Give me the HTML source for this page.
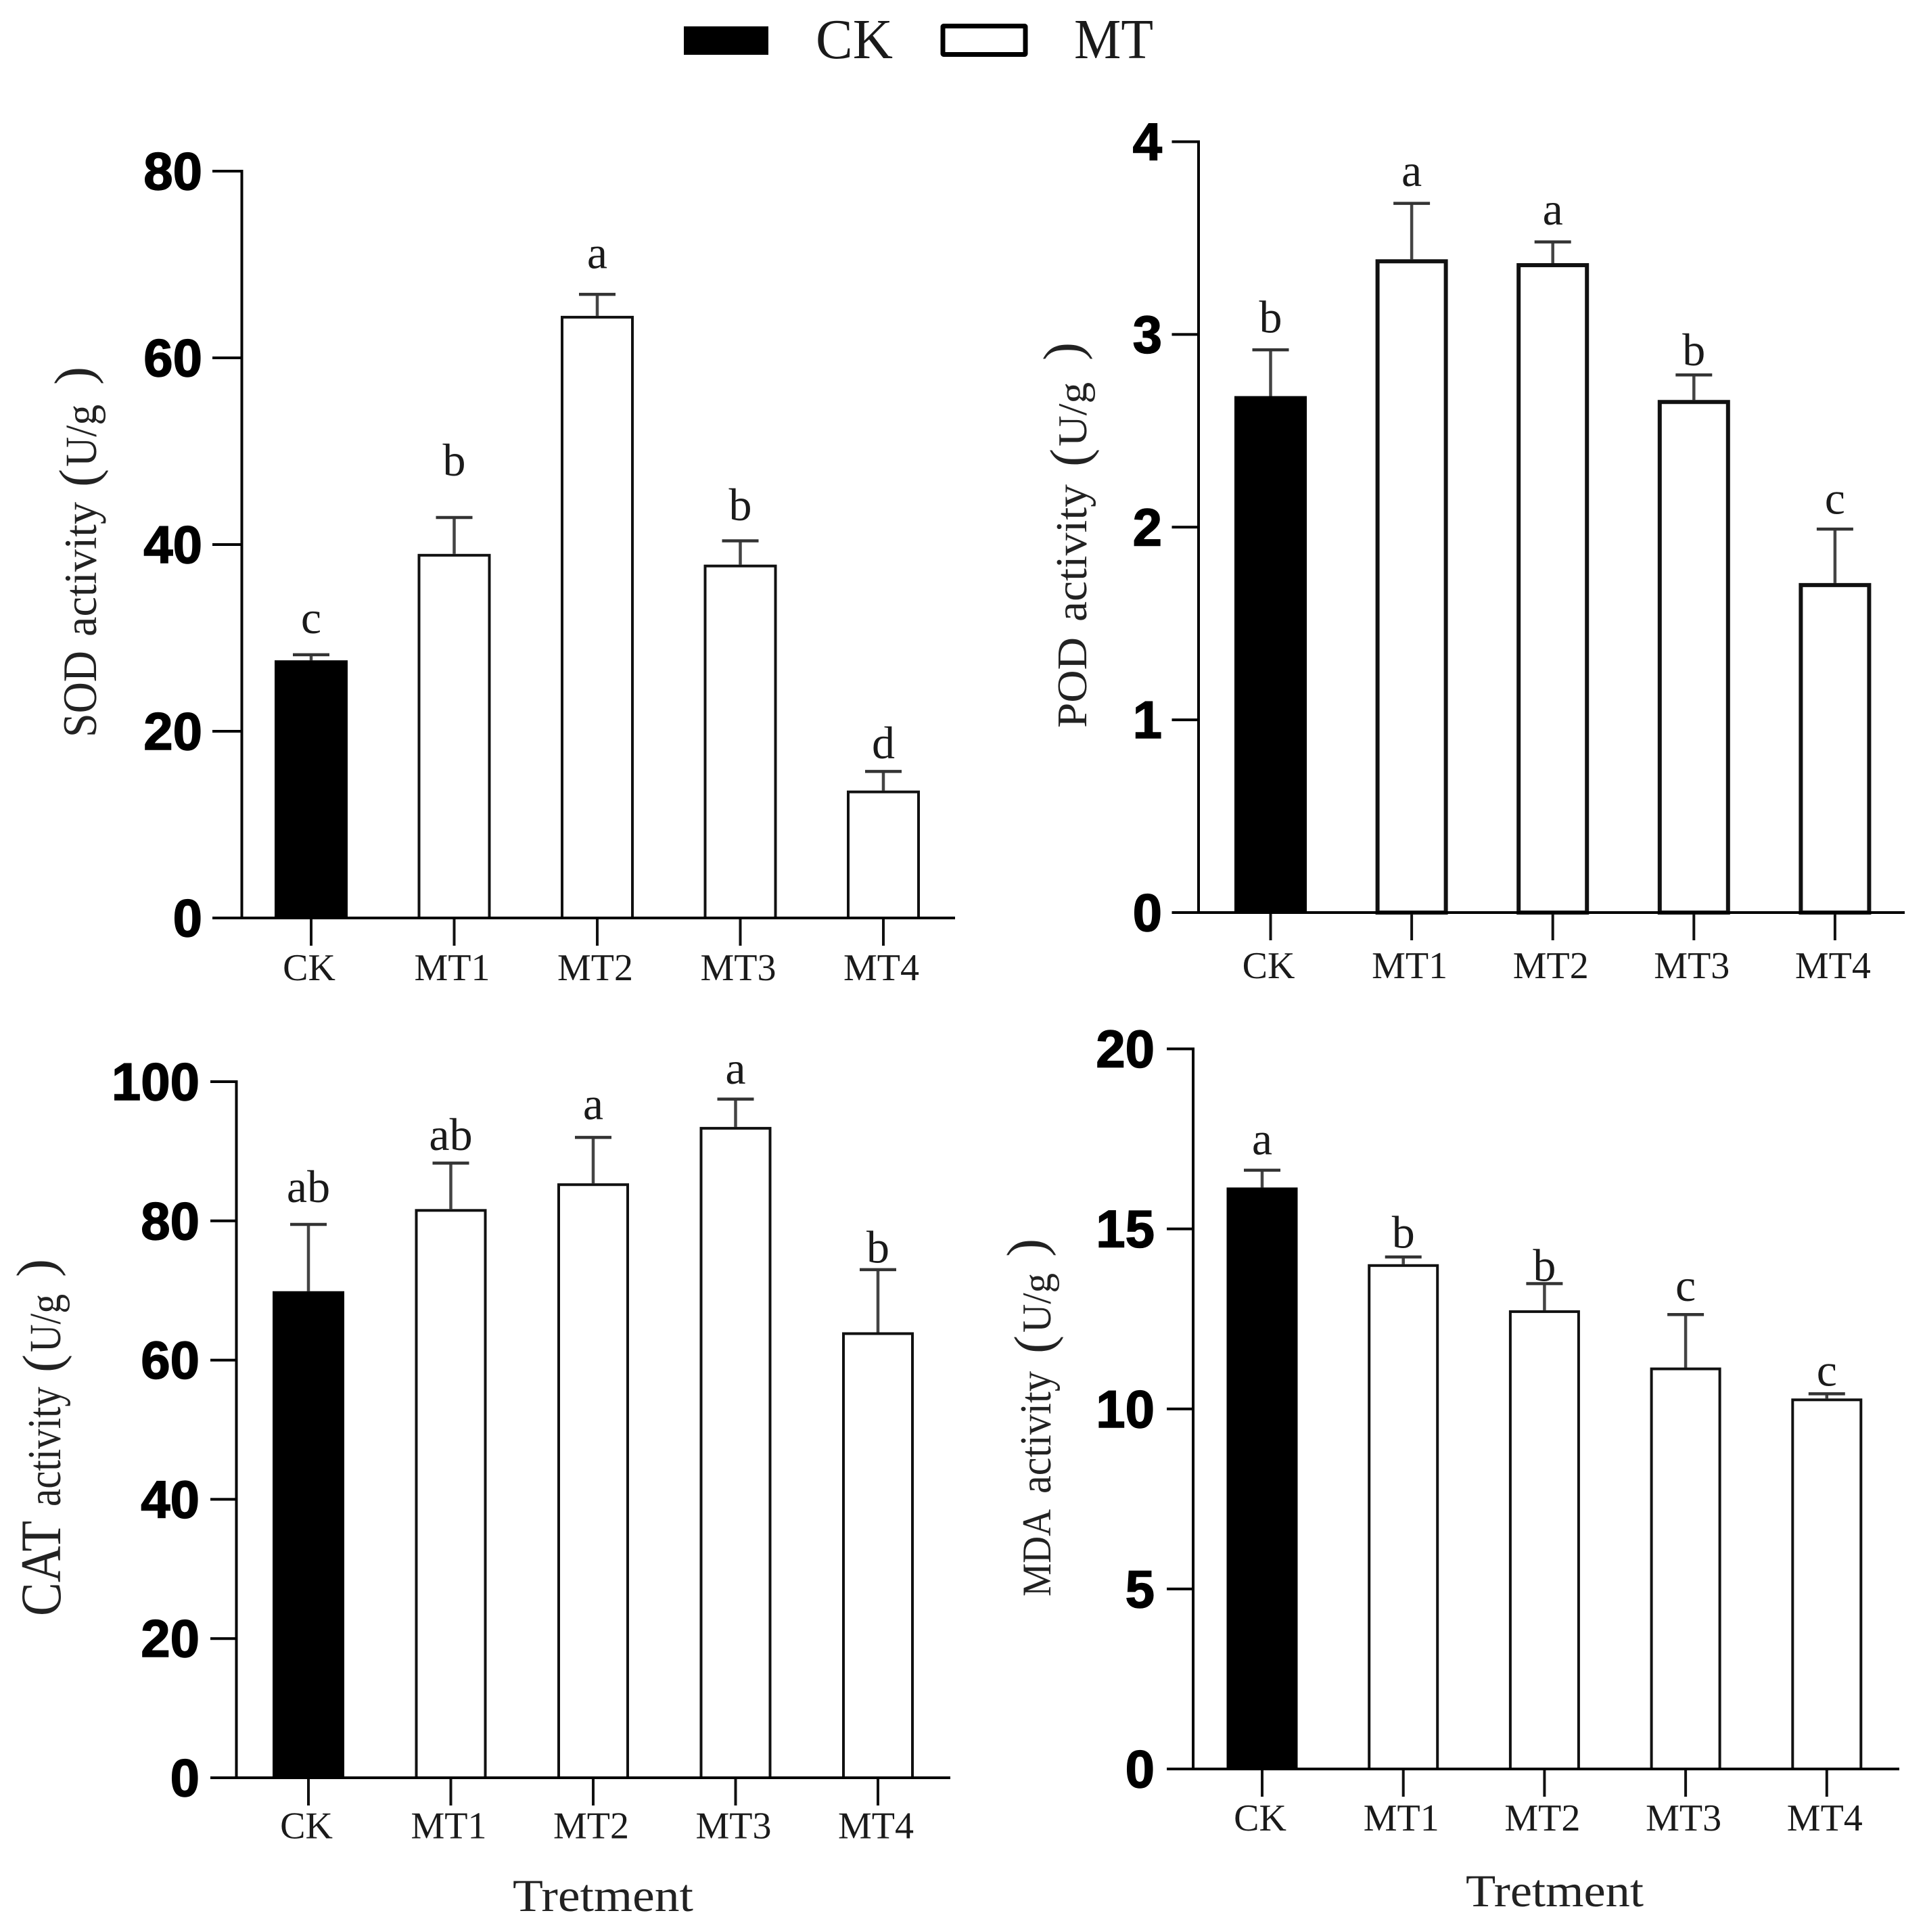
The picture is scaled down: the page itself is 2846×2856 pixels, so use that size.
<!DOCTYPE html>
<html lang="en">
<head>
<meta charset="utf-8">
<title>Enzyme activity by treatment</title>
<style>
  html, body { margin: 0; padding: 0; background: #fff; }
  svg { display: block; }
  .serif { font-family: "Liberation Serif", "Noto Serif CJK SC", serif; }
  .tick-text { font-family: "Liberation Sans", sans-serif; font-weight: 700; font-size: 78px; fill: #000; stroke: #000; stroke-width: 1.5px; }
  .cat-text { font-family: "Liberation Serif", serif; font-size: 56px; fill: #1a1a1a; }
  .letter-text { font-family: "Liberation Serif", serif; font-size: 68px; fill: #1a1a1a; }
  .title-text { font-family: "Liberation Serif", serif; fill: #222; }
</style>
</head>
<body>
<svg id="figure" xmlns="http://www.w3.org/2000/svg" width="2846" height="2856" viewBox="0 0 2846 2856">
  <rect x="0" y="0" width="2846" height="2856" fill="#fff"/>

  <g>
    <rect x="1011" y="39" width="125" height="42" fill="#000"/>
    <text class="serif" x="1206" y="86" font-size="84" fill="#1a1a1a" textLength="114" lengthAdjust="spacingAndGlyphs">CK</text>
    <rect x="1394" y="38.5" width="122" height="42" rx="1" fill="#fff" stroke="#000" stroke-width="7"/>
    <text class="serif" x="1588" y="86" font-size="84" fill="#1a1a1a" textLength="117" lengthAdjust="spacingAndGlyphs">MT</text>
  </g>

  <g>
    <text class="title-text" transform="translate(142,1090) rotate(-90)" font-size="71" textLength="128" lengthAdjust="spacingAndGlyphs">SOD</text>
    <text class="title-text" transform="translate(142,941) rotate(-90)" font-size="68" textLength="199" lengthAdjust="spacingAndGlyphs">activity</text>
    <text class="title-text" transform="translate(143,720) rotate(-90)" font-size="80" textLength="27" lengthAdjust="spacingAndGlyphs">(</text>
    <text class="title-text" transform="translate(142,690) rotate(-90)" font-size="66" textLength="92" lengthAdjust="spacingAndGlyphs">U/g</text>
    <text class="title-text" transform="translate(136,569) rotate(-90)" font-size="80" textLength="27" lengthAdjust="spacingAndGlyphs">)</text>
  </g>

  <g>
    <text class="title-text" transform="translate(1606,1076) rotate(-90)" font-size="62" textLength="134" lengthAdjust="spacingAndGlyphs">POD</text>
    <text class="title-text" transform="translate(1606,919) rotate(-90)" font-size="66" textLength="203" lengthAdjust="spacingAndGlyphs">activity</text>
    <text class="title-text" transform="translate(1608,690) rotate(-90)" font-size="80" textLength="27" lengthAdjust="spacingAndGlyphs">(</text>
    <text class="title-text" transform="translate(1606,660) rotate(-90)" font-size="60" textLength="95" lengthAdjust="spacingAndGlyphs">U/g</text>
    <text class="title-text" transform="translate(1598,533) rotate(-90)" font-size="80" textLength="27" lengthAdjust="spacingAndGlyphs">)</text>
  </g>

  <g>
    <text class="title-text" transform="translate(89,2389) rotate(-90)" font-size="85" textLength="141" lengthAdjust="spacingAndGlyphs">CAT</text>
    <text class="title-text" transform="translate(89,2227) rotate(-90)" font-size="70" textLength="177" lengthAdjust="spacingAndGlyphs">activity</text>
    <text class="title-text" transform="translate(89,2029) rotate(-90)" font-size="80" textLength="27" lengthAdjust="spacingAndGlyphs">(</text>
    <text class="title-text" transform="translate(89,1999) rotate(-90)" font-size="66" textLength="86" lengthAdjust="spacingAndGlyphs">U/g</text>
    <text class="title-text" transform="translate(80,1888) rotate(-90)" font-size="80" textLength="27" lengthAdjust="spacingAndGlyphs">)</text>
  </g>

  <g>
    <text class="title-text" transform="translate(1553,2360) rotate(-90)" font-size="60" textLength="129" lengthAdjust="spacingAndGlyphs">MDA</text>
    <text class="title-text" transform="translate(1553,2208) rotate(-90)" font-size="66" textLength="181" lengthAdjust="spacingAndGlyphs">activity</text>
    <text class="title-text" transform="translate(1555,2001) rotate(-90)" font-size="80" textLength="27" lengthAdjust="spacingAndGlyphs">(</text>
    <text class="title-text" transform="translate(1553,1970) rotate(-90)" font-size="60" textLength="88" lengthAdjust="spacingAndGlyphs">U/g</text>
    <text class="title-text" transform="translate(1544,1858) rotate(-90)" font-size="80" textLength="27" lengthAdjust="spacingAndGlyphs">)</text>
  </g>

  <text class="title-text" x="758" y="2825" font-size="68" textLength="267" lengthAdjust="spacingAndGlyphs">Tretment</text>
  <text class="title-text" x="2167" y="2818" font-size="68" textLength="263" lengthAdjust="spacingAndGlyphs">Tretment</text>
</svg>

<script>
const categories = ['CK', 'MT1', 'MT2', 'MT3', 'MT4'];

const sodTicks = [0, 20, 40, 60, 80];
const sodValues = [27.6, 39.0, 64.5, 37.85, 13.65];
const sodErrors = [0.6, 3.9, 2.3, 2.55, 2.05];
const sodLetters = ['c', 'b', 'a', 'b', 'd'];
const sodLetterLevels = [30.5, 47.4, 69.6, 42.6, 17.1];

const podTicks = [0, 1, 2, 3, 4];
const podValues = [2.68, 3.39, 3.37, 2.66, 1.71];
const podErrors = [0.24, 0.29, 0.11, 0.13, 0.28];
const podLetters = ['b', 'a', 'a', 'b', 'c'];
const podLetterLevels = [3.01, 3.77, 3.57, 2.84, 2.07];

const catTicks = [0, 20, 40, 60, 80, 100];
const catValues = [69.9, 81.7, 85.4, 93.5, 64.0];
const catErrors = [9.6, 6.6, 6.6, 4.0, 9.0];
const catLetters = ['ab', 'ab', 'a', 'a', 'b'];
const catLetterLevels = [82.7, 90.2, 94.6, 99.7, 74.0];

const mdaTicks = [0, 5, 10, 15, 20];
const mdaValues = [16.15, 14.02, 12.74, 11.15, 10.29];
const mdaErrors = [0.48, 0.2, 0.74, 1.47, 0.13];
const mdaLetters = ['a', 'b', 'b', 'c', 'c'];
const mdaLetterLevels = [17.07, 14.48, 13.56, 13.0, 10.64];

const SVG_NS = 'http://www.w3.org/2000/svg';
const figure = document.getElementById('figure');

function make(tag, attrs, parent) {
  const node = document.createElementNS(SVG_NS, tag);
  Object.keys(attrs).forEach(function (k) { node.setAttribute(k, attrs[k]); });
  parent.appendChild(node);
  return node;
}

function drawPanel(prefix, layout, ticks, values, errors, letters, letterLevels) {
  const maxTick = ticks[ticks.length - 1];
  const yScale = function (v) { return layout.y0 - (v / maxTick) * (layout.y0 - layout.top); };
  const xScale = function (i) { return layout.firstCat + i * layout.step; };

  const group = make('g', {}, figure);
  
  

  values.forEach(function (v, i) {
    const cx = xScale(i);
    const isControl = i === 0;
    const barTop = yScale(v);
    const errTop = yScale(v + errors[i]);
    const inset = isControl ? 0 : layout.barStroke / 2;

    const errLine = make('line', { x1: cx, x2: cx, y1: barTop, y2: errTop, stroke: '#444', 'stroke-width': 4.5 }, group);
    
    

    const errCap = make('line', { x1: cx - 27, x2: cx + 27, y1: errTop, y2: errTop, stroke: '#333', 'stroke-width': 4.5 }, group);
    
    

    const bar = make('rect', {
      x: cx - layout.barWidth / 2 + inset,
      y: barTop + inset,
      width: layout.barWidth - inset * 2,
      height: layout.y0 - barTop - inset,
      fill: isControl ? '#000' : '#fff',
      stroke: isControl ? 'none' : '#111',
      'stroke-width': layout.barStroke
    }, group);
    
    

    const letter = make('text', { x: cx, y: yScale(letterLevels[i]), 'text-anchor': 'middle', class: 'letter-text' }, group);
    letter.textContent = letters[i];
    
    

    const tick = make('line', { x1: cx, x2: cx, y1: layout.y0, y2: layout.y0 + 41, stroke: '#111', 'stroke-width': 4 }, group);
    
    

    const catLabel = make('text', { x: cx - 3, y: layout.catBaseline, 'text-anchor': 'middle', class: 'cat-text' }, group);
    catLabel.textContent = categories[i];
    
    
  });

  const yAxis = make('line', { x1: layout.axisX, x2: layout.axisX, y1: layout.top - 2, y2: layout.y0 + 2, stroke: '#000', 'stroke-width': 4 }, group);
  
  

  const xAxis = make('line', { x1: layout.tickLeft, x2: layout.axisEnd, y1: layout.y0, y2: layout.y0, stroke: '#000', 'stroke-width': 4 }, group);
  
  

  ticks.forEach(function (t) {
    const ty = yScale(t);
    const tickMark = make('line', { x1: layout.tickLeft, x2: layout.axisX, y1: ty, y2: ty, stroke: '#000', 'stroke-width': 4 }, group);
    
    

    const tickLabel = make('text', { x: layout.labelRight, y: ty + 27, 'text-anchor': 'end', class: 'tick-text' }, group);
    tickLabel.textContent = String(t);
    
    
  });
}

drawPanel('sod',
  { axisX: 357.5, axisEnd: 1412, tickLeft: 314, top: 253, y0: 1357, firstCat: 460, step: 211.5, barWidth: 108, barStroke: 4, catBaseline: 1449, labelRight: 299 },
  sodTicks, sodValues, sodErrors, sodLetters, sodLetterLevels);

drawPanel('pod',
  { axisX: 1772, axisEnd: 2816, tickLeft: 1732.5, top: 209.5, y0: 1349, firstCat: 1878.5, step: 208.6, barWidth: 107, barStroke: 6, catBaseline: 1446, labelRight: 1718 },
  podTicks, podValues, podErrors, podLetters, podLetterLevels);

drawPanel('cat',
  { axisX: 349.5, axisEnd: 1405, tickLeft: 311, top: 1599, y0: 2628, firstCat: 456, step: 210.5, barWidth: 106, barStroke: 4, catBaseline: 2717.5, labelRight: 295 },
  catTicks, catValues, catErrors, catLetters, catLetterLevels);

drawPanel('mda',
  { axisX: 1764, axisEnd: 2808, tickLeft: 1725, top: 1550.5, y0: 2615, firstCat: 1866, step: 208.7, barWidth: 105, barStroke: 4, catBaseline: 2706, labelRight: 1707 },
  mdaTicks, mdaValues, mdaErrors, mdaLetters, mdaLetterLevels);
</script>
</body>
</html>
